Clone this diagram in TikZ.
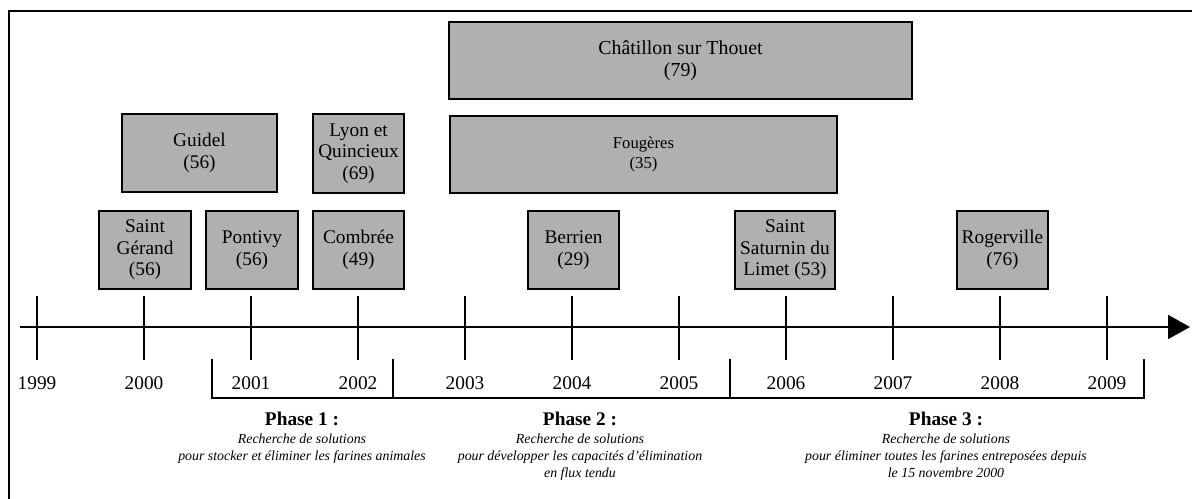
\documentclass[tikz,border=0pt]{standalone}
\usepackage{fontspec}
\setmainfont{Liberation Serif}
\usetikzlibrary{arrows.meta}
\definecolor{sitegray}{RGB}{176,176,176}

\begin{document}
\begin{tikzpicture}[x=0.02cm,y=-0.02cm,
  site/.style={draw, line width=1.1pt, fill=sitegray, align=center, inner sep=0pt,
    minimum height=1.56cm, font=\fontsize{11}{12.2}\selectfont},
  phasetitle/.style={font=\fontsize{11}{12}\selectfont\bfseries},
  phasetext/.style={font=\fontsize{7.9}{9.5}\selectfont\itshape, align=center, anchor=north}]
\useasboundingbox (0,0) rectangle (1192,499);
% Frame
\draw[line width=1.1pt] (9,499) -- (9,11) -- (1192,11);
% Time axis
\coordinate (t0) at (20,327);
\coordinate (t1) at (1190,327);
\draw[line width=1.1pt, -{Triangle[length=0.44cm,width=0.48cm]}] (t0) -- (t1);
% Year ticks and labels
\foreach \i in {0,...,10} {
  \pgfmathtruncatemacro{\yr}{1999+\i}
  \draw[line width=1.1pt] (37+107*\i,296) -- (37+107*\i,360);
  \node[font=\fontsize{11}{12}\selectfont] (y\yr) at (37+107*\i,383) {\yr};
}
% Phase brackets
\draw[line width=1.1pt] (212,359) |- (1144,398) -- (1144,359);
\draw[line width=1.1pt] (393,359) -- (393,398) (730,359) -- (730,398);
% Sites, lower row
\node[site, minimum width=1.84cm] (gerand) at (145,250) {Saint\\Gérand\\(56)};
\node[site, minimum width=1.84cm] (pontivy) at (252,250) {Pontivy\\(56)};
\node[site, minimum width=1.82cm] (combree) at (358.5,250) {Combrée\\(49)};
\node[site, minimum width=1.82cm] (berrien) at (573.5,250) {Berrien\\(29)};
\node[site, minimum width=2.0cm] (saturnin) at (785,250) {Saint\\Saturnin du\\Limet (53)};
\node[site, minimum width=1.82cm] (rogerville) at (1002.5,250) {Rogerville\\(76)};
% Sites, upper rows
\node[site, minimum width=3.1cm] (guidel) at (199.5,153) {Guidel\\(56)};
\node[site, minimum width=1.82cm, minimum height=1.58cm] (lyon) at (358.5,153.5) {Lyon et\\Quincieux\\(69)};
\node[site, minimum width=7.74cm, minimum height=1.54cm, font=\fontsize{9.5}{11.5}\selectfont] (fougeres) at (643.5,154.5) {Fougères\\(35)};
\node[site, minimum width=9.26cm, minimum height=1.54cm, font=\fontsize{11.3}{12.8}\selectfont] (chatillon) at (680.5,60.5) {Châtillon sur Thouet\\(79)};
% Phases
\foreach \n/\x/\txt in {1/302/{Recherche de solutions\\pour stocker et éliminer les farines animales},
  2/580/{Recherche de solutions\\pour développer les capacités d’élimination\\en flux tendu},
  3/946/{Recherche de solutions\\pour éliminer toutes les farines entreposées depuis\\le 15 novembre 2000}} {
  \node[phasetitle] (phase\n) at (\x,419) {Phase \n{} :};
  \node[phasetext] (desc\n) at (\x,428) {\txt};
}
\end{tikzpicture}
\end{document}
